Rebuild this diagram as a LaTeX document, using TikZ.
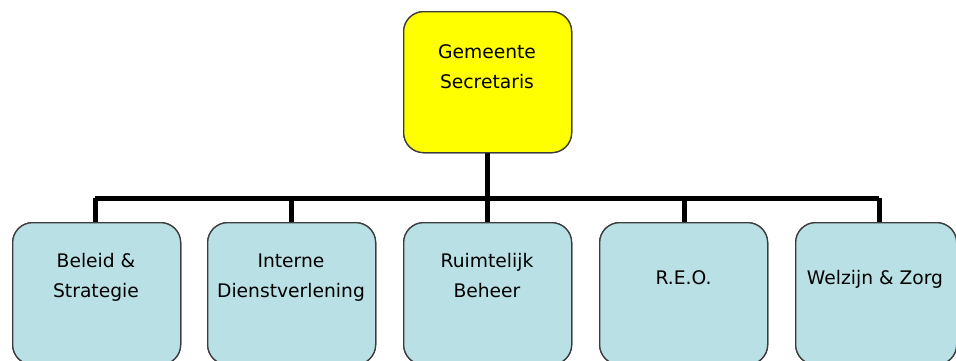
\documentclass[tikz,border=0pt]{standalone}
\usepackage{fontspec}
\setmainfont{DejaVu Sans}
\definecolor{topfill}{RGB}{255,255,0}
\definecolor{boxfill}{RGB}{185,224,228}
\definecolor{boxline}{RGB}{60,60,60}
\begin{document}
\begin{tikzpicture}[x=1pt,y=-1pt,
  orgbox/.style={draw=boxline,line width=1.3pt,rounded corners=20pt,inner sep=0pt,anchor=north west},
  topbox/.style={orgbox,fill=topfill,minimum width=168pt,minimum height=141pt},
  unitbox/.style={orgbox,fill=boxfill,minimum width=168pt,minimum height=142pt},
  lbl/.style={align=center,inner sep=0pt,text height=14pt,text depth=4.5pt,font=\fontsize{18.7}{30.5}\selectfont},
  bus/.style={line width=5pt,black}]
\useasboundingbox (0,0) rectangle (956,360);
\node[topbox] (top) at (403,11) {};
\node[unitbox] (u1) at (12,222) {};
\node[unitbox] (u2) at (207,222) {};
\node[unitbox] (u3) at (403,222) {};
\node[unitbox] (u4) at (599,222) {};
\node[unitbox,minimum width=161pt] (u5) at (795,222) {};
\coordinate (j1) at (95,198);
\coordinate (j2) at (291,198);
\coordinate (j3) at (487,198);
\coordinate (j4) at (684,198);
\coordinate (j5) at (879,198);
\draw[bus] (j1) -- (j5);
\draw[bus] (top.south) -- (u3.north);
\draw[bus] (j1) -- (j1 |- u1.north);
\draw[bus] (j2) -- (j2 |- u2.north);
\draw[bus] (j4) -- (j4 |- u4.north);
\draw[bus] (j5) -- (j5 |- u5.north);
% boxes again, over the line ends
\node[topbox] at (403,11) {};
\node[unitbox] at (12,222) {};
\node[unitbox] at (207,222) {};
\node[unitbox] at (403,222) {};
\node[unitbox] at (599,222) {};
\node[unitbox,minimum width=161pt] at (795,222) {};
\node[lbl] (t0) at (487,84) {Gemeente\\Secretaris};
\node[lbl] (t1) at (96,293) {Beleid \&\\Strategie};
\node[lbl] (t2) at (291,293) {Interne\\Dienstverlening};
\node[lbl] (t3) at (487,293) {Ruimtelijk\\Beheer};
\node[lbl] (t4) at (683.5,280) {R.E.O.};
\node[lbl] (t5) at (875,280) {Welzijn \& Zorg};
\end{tikzpicture}
\end{document}
